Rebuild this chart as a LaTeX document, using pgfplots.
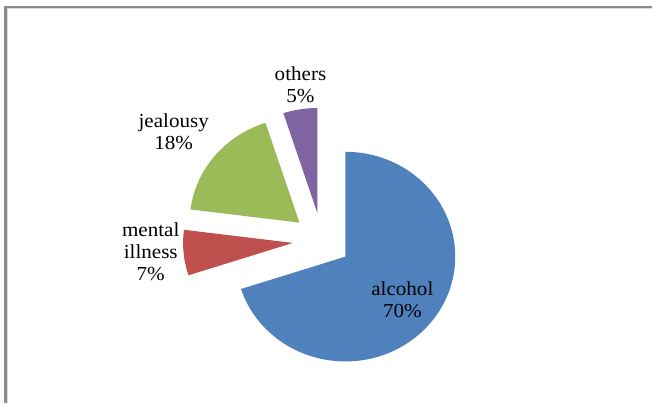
\documentclass[border=0pt]{standalone}
\usepackage{pgfplots}
\pgfplotsset{compat=1.18}
\usepackage{pgfplotstable}
\usepackage{fontspec}
\setmainfont{Liberation Serif}[FakeStretch=1.06]
\definecolor{pieblue}{HTML}{4F81BD}
\definecolor{piered}{HTML}{C0504D}
\definecolor{piegreen}{HTML}{9BBB59}
\definecolor{piepurple}{HTML}{8064A2}
\definecolor{framegray}{RGB}{140,140,140}

\pgfplotstableread[col sep=comma]{
label,value
alcohol,70
mental illness,7
jealousy,18
others,5
}\piedata

\pgfplotstablegetelem{0}{value}\of\piedata \let\vA\pgfplotsretval
\pgfplotstablegetelem{1}{value}\of\piedata \let\vB\pgfplotsretval
\pgfplotstablegetelem{2}{value}\of\piedata \let\vC\pgfplotsretval
\pgfplotstablegetelem{3}{value}\of\piedata \let\vD\pgfplotsretval

\def\cx{322.4}
\def\cy{163.3}
\def\rx{110}
\def\ry{105}
\def\ex{0.265}

\pgfmathsetmacro\sA{90}
\pgfmathsetmacro\eA{\sA-3.6*\vA}
\pgfmathsetmacro\eB{\eA-3.6*\vB}
\pgfmathsetmacro\eC{\eB-3.6*\vC}
\pgfmathsetmacro\eD{\eC-3.6*\vD}

\newcommand\pieslice[3]{%
  \pgfmathsetmacro\m{(#2+#3)/2}%
  \pgfmathsetmacro\tx{\cx+\ex*\rx*cos(\m)}%
  \pgfmathsetmacro\ty{\cy+\ex*\ry*sin(\m)}%
  \pgfmathsetmacro\px{\tx+\rx*cos(#2)}%
  \pgfmathsetmacro\py{\ty+\ry*sin(#2)}%
  \edef\temp{\noexpand\fill[#1] (axis cs:\tx,\ty) -- (axis cs:\px,\py) arc[start angle=#2, end angle=#3, x radius=\rx bp, y radius=\ry bp] -- cycle;}%
  \temp
}

\begin{document}
\begin{tikzpicture}
\begin{axis}[
  x=1bp, y=1bp,
  xmin=0, xmax=653, ymin=0, ymax=404,
  hide axis,
  clip=false,
]
\addplot[draw=none, forget plot] coordinates {(0,0) (653,404)};
\pieslice{pieblue}{\sA}{\eA}
\pieslice{piered}{\eA}{\eB}
\pieslice{piegreen}{\eB}{\eC}
\pieslice{piepurple}{\eC}{\eD}
\draw[framegray, line width=2.2bp] (axis cs:5.5,0) -- (axis cs:5.5,397) -- (axis cs:653,397);
\draw[black!15, line width=0.8bp] (axis cs:7.2,0) -- (axis cs:7.2,395.3) -- (axis cs:653,395.3);
\begin{scope}[every node/.style={align=center, font=\fontsize{20}{22}\selectfont, inner sep=0pt}]
\node at (axis cs:403,104) {alcohol\\70\%};
\node at (axis cs:151,152) {mental\\illness\\7\%};
\node at (axis cs:174,272) {jealousy\\18\%};
\node at (axis cs:301,319) {others\\5\%};
\end{scope}
\end{axis}
\end{tikzpicture}
\end{document}
